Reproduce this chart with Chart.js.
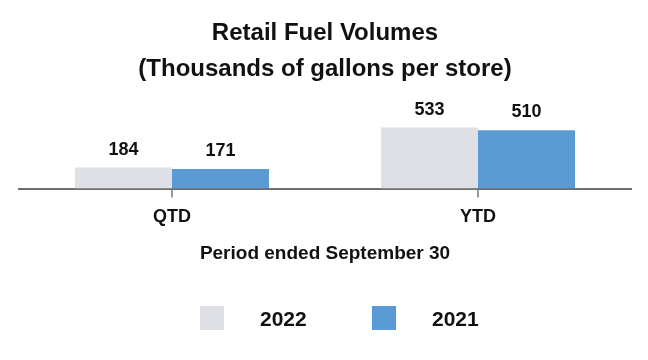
<!DOCTYPE html>
<html>
<head>
<meta charset="utf-8">
<script src="https://cdn.jsdelivr.net/npm/chart.js@4"></script>
<style>
  html, body { margin: 0; padding: 0; background: #fff; }
  #wrap { position: relative; width: 648px; height: 360px; }
  #legend { position: absolute; top: 306px; left: 0; width: 648px; height: 24px; font: bold 21px 'Liberation Sans', Arial, sans-serif; color: #111; }
  .item { position: absolute; top: 0; height: 24px; line-height: 25px; }
  .box { position: absolute; top: 0; left: 0; width: 24px; height: 24px; }
  .txt { position: absolute; top: 0; left: 60px; white-space: nowrap; }
</style>
</head>
<body>
<div id="wrap">
  <canvas id="myChart"></canvas>
  <div id="legend"></div>
</div>
<script>
const FONT = "'Liberation Sans', Arial, sans-serif";

const periods = ['QTD', 'YTD'];
const years = ['2022', '2021'];
const volumes2022 = [184, 533];
const volumes2021 = [171, 510];
const barColors = ['#dfe0e6', '#5b9bd5'];

// 막대 위 값 표시
const valueLabels = {
    id: 'valueLabels',
    afterDatasetsDraw(chart) {
        const c = chart.ctx;
        c.save();
        c.font = 'bold 18px ' + FONT;
        c.fillStyle = '#111';
        c.textAlign = 'center';
        c.textBaseline = 'alphabetic';
        chart.data.datasets.forEach((ds, i) => {
            chart.getDatasetMeta(i).data.forEach((bar, j) => {
                c.fillText(ds.data[j], bar.x, bar.y - 13);
            });
        });
        c.restore();
    }
};

const ctx = document.getElementById('myChart').getContext('2d');
const myChart = new Chart(ctx, {
    type: 'bar',
    data: {
        labels: periods,
        datasets: [{
            label: years[0],
            data: volumes2022,
            backgroundColor: barColors[0],
            borderWidth: 0,
            categoryPercentage: 0.634,
            barPercentage: 1
        }, {
            label: years[1],
            data: volumes2021,
            backgroundColor: barColors[1],
            borderWidth: 0,
            categoryPercentage: 0.634,
            barPercentage: 1
        }]
    },
    options: {
        responsive: true,
        maintainAspectRatio: false,
        animation: false,
        layout: {
            padding: { left: 19, right: 17, top: 0, bottom: 95 }
        },
        plugins: {
            legend: { display: false },
            tooltip: { enabled: false },
            title: {
                display: true,
                text: ['Retail Fuel Volumes', '(Thousands of gallons per store)'],
                color: '#111',
                font: { family: FONT, size: 24, weight: 'bold', lineHeight: 1.5 },
                padding: { top: 15, bottom: 10 }
            }
        },
        scales: {
            x: {
                border: { color: '#6e6e6e', width: 2 },
                grid: {
                    offset: false,
                    drawOnChartArea: false,
                    drawTicks: true,
                    tickLength: 9,
                    color: '#9a9a9a',
                    lineWidth: 2
                },
                ticks: {
                    color: '#111',
                    padding: 9,
                    font: { family: FONT, size: 18, weight: 'bold' }
                },
                title: {
                    display: true,
                    text: 'Period ended September 30',
                    color: '#111',
                    font: { family: FONT, size: 19, weight: 'bold' },
                    padding: { top: 5, bottom: 0 }
                }
            },
            y: {
                display: false,
                min: 0,
                max: 800
            }
        }
    },
    plugins: [valueLabels]
});

// 범례
const legendEl = document.getElementById('legend');
const legendX = [200, 372];
years.forEach((y, i) => {
    const item = document.createElement('div');
    item.className = 'item';
    item.style.left = legendX[i] + 'px';
    item.innerHTML = '<div class="box" style="background:' + barColors[i] + '"></div><div class="txt">' + y + '</div>';
    legendEl.appendChild(item);
});
</script>
</body>
</html>
